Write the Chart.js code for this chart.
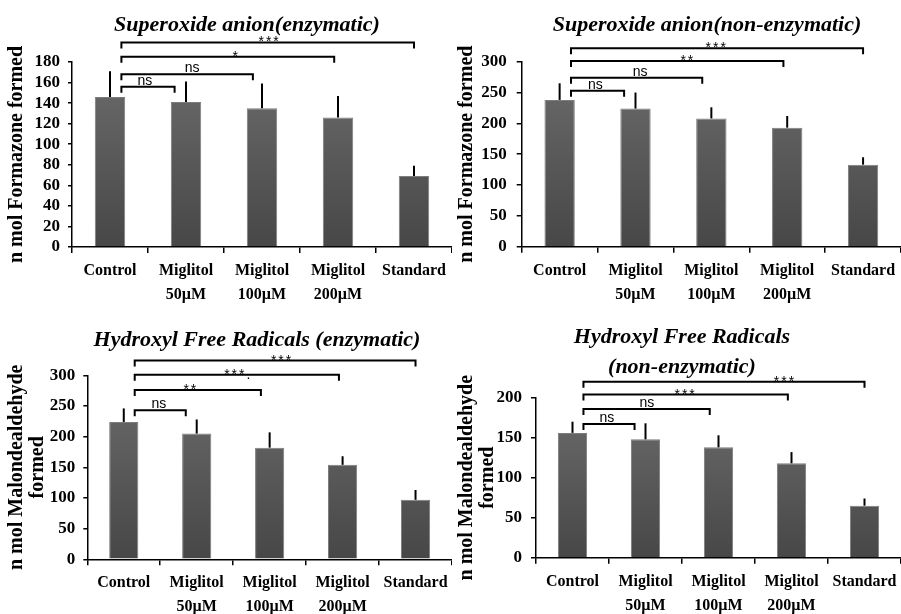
<!DOCTYPE html>
<html>
<head>
<meta charset="utf-8">
<script src="https://cdn.jsdelivr.net/npm/chart.js@4.4.1/dist/chart.umd.min.js"></script>
<style>
  body { margin: 0; background: #fff; }
  #wrap { position: relative; width: 901px; height: 614px; overflow: hidden; }
  canvas { position: absolute; }
</style>
</head>
<body>
<div id="wrap">
  <canvas id="c1" width="452" height="307" style="left:0;top:0"></canvas>
  <canvas id="c2" width="451" height="307" style="left:450px;top:0"></canvas>
  <canvas id="c3" width="452" height="307" style="left:0;top:307px"></canvas>
  <canvas id="c4" width="451" height="307" style="left:450px;top:307px"></canvas>
</div>
<script>
const groups = ['Control', ['Miglitol', '50µM'], ['Miglitol', '100µM'], ['Miglitol', '200µM'], 'Standard'];

// superoxide anion, enzymatic
const soEnzMean = [146, 141, 135, 126, 69];
const soEnzErr = [25, 20, 24, 21, 10];
const soEnzTicks = [0, 20, 40, 60, 80, 100, 120, 140, 160, 180];
const soEnzSig = ['ns', 'ns', '*', '***'];
const soEnzLevel = [156, 168, 185, 199];
const soEnzSigAt = [0.46, 1.08, 1.66, 2.1];

// superoxide anion, non-enzymatic
const soNonMean = [238, 224, 208, 193, 133];
const soNonErr = [27, 26, 18, 19, 12];
const soNonTicks = [0, 50, 100, 150, 200, 250, 300];
const soNonSig = ['ns', 'ns', '**', '***'];
const soNonLevel = [253, 274, 301, 322];
const soNonSigAt = [0.47, 1.06, 1.69, 2.07];

// hydroxyl radicals, enzymatic
const ohEnzMean = [224, 205, 182, 154, 97];
const ohEnzErr = [22, 23, 25, 14, 16];
const ohEnzTicks = [0, 50, 100, 150, 200, 250, 300];
const ohEnzSig = ['ns', '**', '***.', '***'];
const ohEnzLevel = [243, 276, 301, 324];
const ohEnzSigAt = [0.48, 0.92, 1.57, 2.17];

// hydroxyl radicals, non-enzymatic
const ohNonMean = [156, 148, 138, 118, 65];
const ohNonErr = [14, 20, 15, 14, 9];
const ohNonTicks = [0, 50, 100, 150, 200];
const ohNonSig = ['ns', 'ns', '***', '***'];
const ohNonLevel = [167, 186, 204, 220];
const ohNonSigAt = [0.47, 1.02, 1.55, 2.91];

const SERIF = '"Liberation Serif", "Times New Roman", serif';
const SANS = '"Liberation Sans", Arial, sans-serif';
const bracketEnd = [-0.15, -0.12, -0.05, 0];

// error bars (upper only) + significance brackets
const marks = {
  id: 'marks',
  afterLayout(chart, args, o) {
    chart.titleBlock.left += o.titleShift;
    chart.titleBlock.right += o.titleShift;
  },
  afterDatasetsDraw(chart, args, o) {
    const {ctx, scales: {x, y}} = chart;
    ctx.save();
    ctx.strokeStyle = '#000';
    ctx.lineWidth = 2;
    chart.getDatasetMeta(0).data.forEach((bar, i) => {
      ctx.beginPath();
      ctx.moveTo(bar.x, bar.y);
      ctx.lineTo(bar.x, y.getPixelForValue(o.mean[i] + o.err[i]));
      ctx.stroke();
    });
    const cw = x.getPixelForValue(1) - x.getPixelForValue(0);
    const at = v => x.getPixelForValue(0) + v * cw;
    const x0 = at(0.15);
    ctx.fillStyle = '#000';
    ctx.textAlign = 'center';
    ctx.textBaseline = 'alphabetic';
    ctx.font = '14px ' + SANS;
    o.level.forEach((lv, k) => {
      const yy = y.getPixelForValue(lv);
      const x1 = at(k + 1 + bracketEnd[k]);
      ctx.beginPath();
      ctx.moveTo(x0, yy + 6);
      ctx.lineTo(x0, yy);
      ctx.lineTo(x1, yy);
      ctx.lineTo(x1, yy + 6);
      ctx.stroke();
      const s = o.sig[k];
      if (s[0] === '*') {
        ctx.letterSpacing = '2px';
        ctx.fillText(s, at(o.sigAt[k]), yy + 4);
      } else {
        ctx.letterSpacing = '0px';
        ctx.fillText(s, at(o.sigAt[k]), yy - 2);
      }
    });
    ctx.restore();
  }
};

function barFill(c) {
  const {ctx, chartArea} = c.chart;
  if (!chartArea) return '#5a5a5a';
  const g = ctx.createLinearGradient(0, chartArea.top, 0, chartArea.bottom);
  g.addColorStop(0, '#6c6c6c');
  g.addColorStop(1, '#474747');
  return g;
}

function makePanel(id, p) {
  return new Chart(document.getElementById(id), {
    type: 'bar',
    data: {
      labels: groups,
      datasets: [{
        data: p.mean,
        backgroundColor: barFill,
        borderColor: '#7d7d7d',
        borderWidth: 1,
        barPercentage: 0.4,
        categoryPercentage: 1
      }]
    },
    plugins: [marks],
    options: {
      responsive: false,
      animation: false,
      layout: { padding: 0 },
      plugins: {
        legend: { display: false },
        tooltip: { enabled: false },
        title: {
          display: true,
          text: p.title,
          color: '#000',
          font: { family: SERIF, size: 22, weight: 'bold', style: 'italic', lineHeight: p.titleLH || 1.2 },
          padding: p.titlePad
        },
        marks: {
          mean: p.mean, err: p.err, sig: p.sig, level: p.level, sigAt: p.sigAt,
          titleShift: p.titleShift
        }
      },
      scales: {
        x: {
          afterFit: s => { s.height = p.xH; s.paddingLeft = 0; s.paddingRight = 0; },
          border: { color: '#000', width: 1.5 },
          grid: { drawOnChartArea: false, color: '#000', lineWidth: 1.5, tickLength: 6 },
          ticks: {
            color: '#000', autoSkip: false, maxRotation: 0, padding: 6,
            font: { family: SERIF, size: 16, weight: 'bold', lineHeight: 1.5 }
          }
        },
        y: {
          min: p.ticks[0],
          max: p.ticks[p.ticks.length - 1],
          afterFit: s => { s.width = p.yW; s.paddingTop = 0; s.paddingBottom = 0; },
          afterBuildTicks: s => { s.ticks = p.ticks.map(v => ({ value: v })); },
          border: { color: '#000', width: 1.5 },
          grid: { drawOnChartArea: false, color: '#000', lineWidth: 1.5, tickLength: p.yTick },
          ticks: {
            color: '#000', padding: p.yPad, autoSkip: false,
            font: { family: SERIF, size: 17, weight: 'bold' }
          },
          title: {
            display: true,
            text: p.yTitle,
            color: '#000',
            font: { family: SERIF, size: 20, weight: 'bold', lineHeight: 1.05 },
            padding: { top: 6.5, bottom: 0 }
          }
        }
      }
    }
  });
}

makePanel('c1', {
  title: 'Superoxide anion(enzymatic)', yTitle: 'n mol Formazone formed',
  mean: soEnzMean, err: soEnzErr, ticks: soEnzTicks, sig: soEnzSig, level: soEnzLevel, sigAt: soEnzSigAt,
  yW: 72, xH: 60, yTick: 4, yPad: 8, titlePad: { top: 11.8, bottom: 23.8 }, titleShift: 21
});
makePanel('c2', {
  title: 'Superoxide anion(non-enzymatic)', yTitle: 'n mol Formazone formed',
  mean: soNonMean, err: soNonErr, ticks: soNonTicks, sig: soNonSig, level: soNonLevel, sigAt: soNonSigAt,
  yW: 71.7, xH: 60.3, yTick: 5, yPad: 10, titlePad: { top: 11.8, bottom: 23.5 }, titleShift: 31.5
});
makePanel('c3', {
  title: 'Hydroxyl Free Radicals (enzymatic)', yTitle: ['n mol Malondealdehyde', 'formed'],
  mean: ohEnzMean, err: ohEnzErr, ticks: ohEnzTicks, sig: ohEnzSig, level: ohEnzLevel, sigAt: ohEnzSigAt,
  yW: 87.3, xH: 54.7, yTick: 4, yPad: 8, titlePad: { top: 20.1, bottom: 21.8 }, titleShift: 31
});
makePanel('c4', {
  title: ['Hydroxyl Free Radicals', '(non-enzymatic)'], yTitle: ['n mol Malondealdehyde', 'formed'],
  mean: ohNonMean, err: ohNonErr, ticks: ohNonTicks, sig: ohNonSig, level: ohNonLevel, sigAt: ohNonSigAt,
  yW: 86, xH: 56.3, yTick: 5, yPad: 9, titlePad: { top: 15, bottom: 15.7 }, titleLH: 30 / 22, titleShift: 6.5
});
</script>
</body>
</html>
